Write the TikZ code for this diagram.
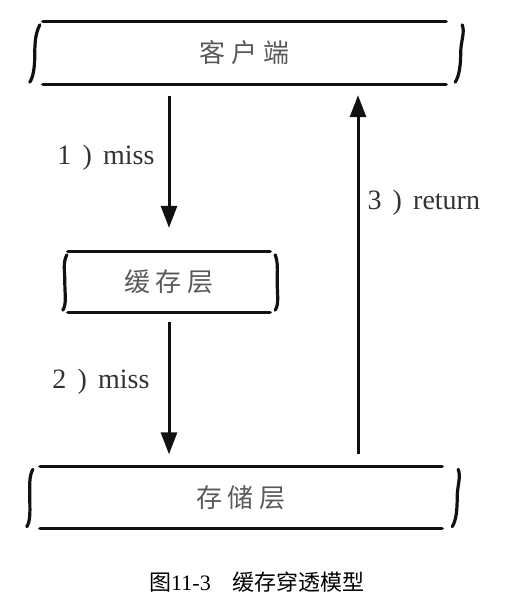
\documentclass[tikz,border=0pt]{standalone}
\usepackage{fontspec}
\setmainfont{Liberation Serif}
\newfontfamily\cjk[LetterSpace=22]{Noto Sans CJK SC}
\newfontfamily\cjkcap{Noto Sans CJK SC}
\usetikzlibrary{arrows.meta,positioning,calc}
\definecolor{Ink}{HTML}{111111}
\definecolor{Pencil}{HTML}{5A5A5A}
\definecolor{Label}{HTML}{333333}
\tikzset{
  layer/.style={minimum height=62pt,inner sep=0pt,font=\cjk\fontsize{26}{26}\selectfont,text=Pencil},
  edge/.style={draw=Ink,line width=3.2pt,line cap=round},
  flow/.style={-{Triangle[length=22pt,width=16pt]},draw=Ink,line width=3pt},
  tag/.style={font=\fontsize{28}{28}\selectfont,text=Label,inner sep=0pt},
  caption/.style={font=\fontsize{22}{22}\selectfont,text=black,inner sep=0pt}
}

\begin{document}
\begin{tikzpicture}[x=1pt,y=-1pt]
  \useasboundingbox (0,0) rectangle (519,608);
  % the three layers
  \node[layer,minimum width=403pt] (client) at (244.5,53) {客户端};
  \node[layer,minimum width=202pt,minimum height=60pt] (cache) at (169,282) {缓存层};
  \node[layer,minimum width=402pt] (store) at (241,497.5) {存储层};
  \coordinate (retx) at (358,0);
  % rules and hand-drawn braces
  \foreach \n/\lt/\lb/\rt/\rb in {client/-3/-13/16/9,cache/-1/-5/5/5,store/-7/-13/16/10}{
    \draw[edge] (\n.north west) -- (\n.north east);
    \draw[edge] (\n.south west) -- (\n.south east);
    \draw[edge] ($(\n.north west)+(\lt,3)$) .. controls +(-4,8) and +(0,-12) .. ($(\n.west)+({(\lt+\lb)/2},0)$)
      .. controls +(0,12) and +(4,-6) .. ($(\n.south west)+(\lb,-2)$);
    \draw[edge] ($(\n.north east)+(\rt,3)$) .. controls +(3,8) and +(0,-12) .. ($(\n.east)+({(\rt+\rb)/2+2},0)$)
      .. controls +(0,12) and +(4,-6) .. ($(\n.south east)+(\rb,-2)$);
  }
  % requests and answer
  \draw[flow] ([yshift=-12pt]client.south -| cache.north) -- ([yshift=24pt]cache.north)
    node[tag,pos=.47,left=13pt] (miss1) {1\hspace{.4em})\hspace{.4em}miss};
  \draw[flow] ([yshift=-10pt]cache.south) -- ([yshift=12pt]store.north -| cache.south)
    node[tag,pos=.45,left=18pt] (miss2) {2\hspace{.4em})\hspace{.4em}miss};
  \draw[flow] ([yshift=12pt]store.north -| retx) -- ([yshift=-11pt]client.south -| retx)
    node[tag,pos=.7,right=8pt] (ret) {3\hspace{.4em})\hspace{.4em}return};
  \node[caption] (title) at (257,582) {{\cjkcap 图}11-3\hspace{1em}{\cjkcap 缓存穿透模型}};
\end{tikzpicture}
\end{document}
